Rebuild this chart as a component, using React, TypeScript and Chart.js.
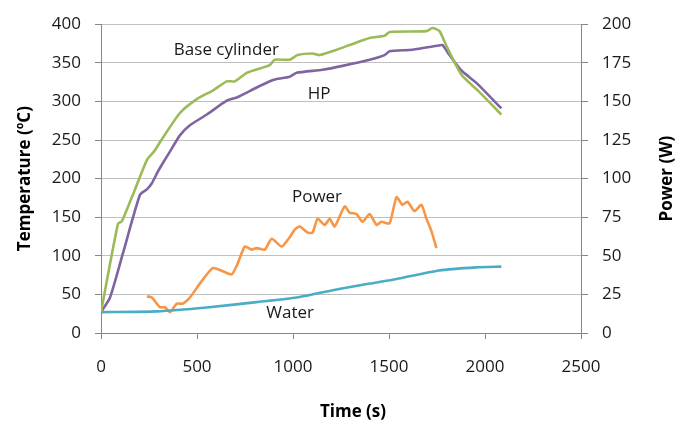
import React, { useEffect, useRef } from "react";
import { Chart, registerables } from "chart.js";

Chart.register(...registerables);

// Base cylinder temperature (°C)
const baseTime = [0, 88, 109, 166, 239, 276, 317, 411, 499, 582, 655, 697, 759, 879, 905, 983, 1024, 1102, 1139, 1227, 1295, 1399, 1477, 1503, 1695, 1726, 1763, 1799, 1851, 1882, 1971, 2085];
const baseTemp = [27, 141, 145, 179, 224, 235, 251, 285, 303, 314, 326, 326, 337, 347, 354, 354, 360, 362, 360, 367, 373, 382, 385, 390, 391, 395, 391, 372, 346, 333, 312, 283];

// HP temperature (°C)
const hpTime = [0, 47, 114, 203, 239, 265, 296, 317, 359, 411, 463, 551, 655, 707, 811, 889, 915, 983, 1019, 1154, 1258, 1399, 1477, 1503, 1622, 1752, 1778, 1815, 1877, 1955, 2085];
const hpTemp = [27, 46, 103, 179, 186, 194, 209, 218, 235, 256, 269, 283, 301, 305, 318, 327, 329, 332, 337, 341, 346, 354, 360, 365, 367, 372, 373, 360, 340, 324, 291];

// Water temperature (°C)
const waterTime = [0, 290, 550, 810, 1020, 1240, 1400, 1540, 1760, 1955, 2085];
const waterTemp = [27, 28, 33, 40, 46, 57, 64, 70, 81, 85, 86];

// Power (W), right axis
const powerTime = [239, 265, 307, 333, 359, 395, 426, 463, 515, 582, 634, 681, 712, 749, 785, 811, 853, 889, 941, 983, 1009, 1035, 1076, 1102, 1128, 1165, 1191, 1217, 1269, 1295, 1331, 1362, 1399, 1435, 1461, 1503, 1539, 1570, 1596, 1633, 1669, 1695, 1721, 1747];
const powerW = [23.7, 23, 16.7, 16.7, 13.5, 19, 19, 23, 32, 42, 40, 38, 45, 56, 54, 55, 54, 61, 56, 62, 67, 69, 65, 65, 74, 70, 74, 69, 82, 78, 77, 72, 77, 70, 72, 71, 88, 83, 85, 79, 83, 74, 66, 55];

// Axis ticks
const xTicks = [0, 500, 1000, 1500, 2000, 2500];
const tempTicks = [0, 50, 100, 150, 200, 250, 300, 350, 400];
const powerTicks = [0, 25, 50, 75, 100, 125, 150, 175, 200];

// In-chart labels: [text, time, value on temperature axis]
const labelText = ["Base cylinder", "HP", "Power", "Water"];
const labelTime = [653, 1136, 1125, 985];
const labelTemp = [367, 310, 176, 25.6];

const xTitle = "Time (s)";
const yTitle = "Temperature (ºC)";
const y1Title = "Power (W)";

const FONT = "'Open Sans', 'Liberation Sans', sans-serif";

const zip = (xs: number[], ys: number[]) => xs.map((x, i) => ({ x, y: ys[i] }));

const labelsPlugin = {
  id: "seriesLabels",
  afterDatasetsDraw(chart: any) {
    const { ctx, scales, chartArea } = chart;
    ctx.save();
    ctx.font = `17px ${FONT}`;
    ctx.fillStyle = "#1a1a1a";
    ctx.textAlign = "center";
    ctx.textBaseline = "middle";
    labelText.forEach((t, i) => {
      ctx.fillText(t, scales.x.getPixelForValue(labelTime[i]), scales.y.getPixelForValue(labelTemp[i]));
    });
    // axis titles
    ctx.font = `bold 17px ${FONT}`;
    ctx.fillStyle = "#000";
    const midY = (chartArea.top + chartArea.bottom) / 2;
    ctx.fillText(xTitle, chartArea.left + (chartArea.right - chartArea.left) * 0.525, 412);
    ctx.save();
    ctx.translate(25, midY);
    ctx.rotate(-Math.PI / 2);
    ctx.fillText(yTitle, 0, 0);
    ctx.restore();
    ctx.save();
    ctx.translate(667, midY);
    ctx.rotate(-Math.PI / 2);
    ctx.fillText(y1Title, 0, 0);
    ctx.restore();
    ctx.restore();
  },
};

export default function App() {
  const ref = useRef<HTMLCanvasElement>(null);
  useEffect(() => {
    if (!ref.current) return;
    const lw = 2.6;
    const tickFont = { family: FONT, size: 17 };
    const chart = new Chart(ref.current, {
      type: "line",
      data: {
        datasets: [
          { label: "Base cylinder", data: zip(baseTime, baseTemp), borderColor: "#9BBB59", yAxisID: "y" },
          { label: "HP", data: zip(hpTime, hpTemp), borderColor: "#8064A2", yAxisID: "y" },
          { label: "Water", data: zip(waterTime, waterTemp), borderColor: "#4BACC6", yAxisID: "y" },
          { label: "Power", data: zip(powerTime, powerW), borderColor: "#F79646", yAxisID: "y1" },
        ].map((d) => ({ ...d, borderWidth: lw, pointRadius: 0, tension: 0.2, fill: false })),
      },
      options: {
        responsive: false,
        animation: false,
        layout: { padding: { top: 21, left: 0, right: 0, bottom: 0 } },
        plugins: { legend: { display: false }, tooltip: { enabled: false } },
        scales: {
          x: {
            type: "linear",
            min: 0,
            max: 2500,
            afterBuildTicks: (s: any) => { s.ticks = xTicks.map((v) => ({ value: v })); },
            afterFit: (s: any) => { s.height = 101; },
            grid: { drawOnChartArea: false, drawTicks: true, tickLength: 6, color: "#868686" },
            border: { color: "#868686" },
            ticks: { font: tickFont, color: "#1a1a1a", padding: 18, maxRotation: 0, callback: (v: any) => String(v) },
          },
          y: {
            position: "left",
            min: 0,
            max: 400,
            afterBuildTicks: (s: any) => { s.ticks = tempTicks.map((v) => ({ value: v })); },
            afterFit: (s: any) => { s.width = 101; },
            grid: { color: "#c0c0c0", tickLength: 6, tickColor: "#868686" },
            border: { color: "#868686" },
            ticks: { font: tickFont, color: "#1a1a1a", padding: 14, callback: (v: any) => String(v) },
          },
          y1: {
            position: "right",
            min: 0,
            max: 200,
            afterBuildTicks: (s: any) => { s.ticks = powerTicks.map((v) => ({ value: v })); },
            afterFit: (s: any) => { s.width = 110; },
            grid: { drawOnChartArea: false, tickLength: 7, color: "#868686" },
            border: { color: "#868686" },
            ticks: { font: tickFont, color: "#1a1a1a", padding: 14, callback: (v: any) => String(v) },
          },
        },
      },
      plugins: [labelsPlugin],
    } as any);
    return () => chart.destroy();
  }, []);
  return (
    <div style={{ position: "absolute", left: 0, top: 0, width: 691, height: 434, background: "#fff" }}>
      <canvas ref={ref} width={691} height={434} />
    </div>
  );
}
